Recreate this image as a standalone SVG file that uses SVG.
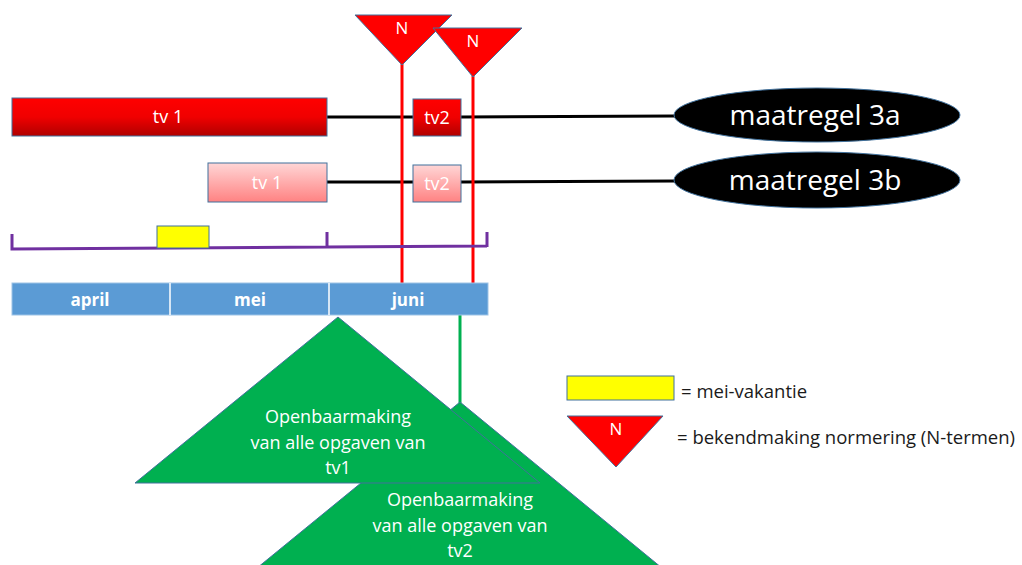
<svg xmlns="http://www.w3.org/2000/svg" width="1022" height="565" viewBox="0 0 1022 565">
<defs>
<linearGradient id="gRed" x1="0" y1="0" x2="0" y2="1">
<stop offset="0" stop-color="#FF0000"/>
<stop offset="0.5" stop-color="#F00000"/>
<stop offset="1" stop-color="#B00000"/>
</linearGradient>
<linearGradient id="gPink" x1="0" y1="0" x2="0" y2="1">
<stop offset="0" stop-color="#FFD6D6"/>
<stop offset="1" stop-color="#FF8282"/>
</linearGradient>
<style>
text{font-family:"Open Sans","Liberation Sans",sans-serif;}
.bar{stroke:#41719C;stroke-width:1;}
.ntri{fill:#FF0000;stroke:#41719C;stroke-width:1;}
.gtri{fill:#00B050;stroke:#41719C;stroke-width:1;}
.blk{stroke:#000000;stroke-width:3;fill:none;}
.redl{stroke:#FF0000;stroke-width:3;fill:none;}
.pur{stroke:#7030A0;stroke-width:3;fill:none;}
.mon{font-weight:bold;font-size:17px;fill:#FFFFFF;text-anchor:middle;}
.lbl{font-size:18px;fill:#FFFFFF;text-anchor:middle;}
.nl{font-size:17px;fill:#FFFFFF;text-anchor:middle;}
.big{font-size:28px;fill:#FFFFFF;text-anchor:middle;}
.tri{font-size:18px;fill:#FFFFFF;text-anchor:middle;}
.leg{font-size:18.5px;fill:#1A1A1A;}
</style>
</defs>
<rect width="1022" height="565" fill="#FFFFFF"/>

<g id="connectors">
<line class="blk" x1="327" y1="117" x2="413" y2="117"/>
<line class="blk" x1="461" y1="117" x2="675" y2="116"/>
<line class="blk" x1="327" y1="182" x2="413" y2="182"/>
<line class="blk" x1="461" y1="182" x2="675" y2="181"/>
<line class="redl" x1="402" y1="64" x2="402" y2="283"/>
<line class="redl" x1="473" y1="76" x2="473" y2="283"/>
<line x1="460" y1="315" x2="460" y2="403" stroke="#00B050" stroke-width="3"/>
</g>

<g id="timeline">
<path class="pur" d="M12,234 V249 L327,247 M327,232 V247 L487,246 M487,232 V247"/>
<rect id="mei-vakantie" x="157" y="226" width="52" height="22" fill="#FFFF00" stroke="#41719C" stroke-width="1"/>
</g>

<g id="months">
<rect x="12" y="283" width="476" height="32" fill="#5B9BD5" stroke="#9DC3E6" stroke-width="1"/>
<line x1="170" y1="283" x2="170" y2="315" stroke="#FFFFFF" stroke-width="1.5"/>
<line x1="329" y1="283" x2="329" y2="315" stroke="#FFFFFF" stroke-width="1.5"/>
<text class="mon" x="90" y="306">april</text>
<text class="mon" x="250" y="306">mei</text>
<text class="mon" x="408" y="306">juni</text>
</g>

<g id="tv1-a">
<rect class="bar" x="12" y="98" width="315" height="38" fill="url(#gRed)"/>
<text class="lbl" x="168" y="123">tv 1</text>
</g>
<g id="tv2-a">
<rect class="bar" x="413" y="99" width="48" height="37" fill="url(#gRed)"/>
<text class="lbl" x="437" y="124">tv2</text>
</g>
<g id="tv1-b">
<rect class="bar" x="208" y="163" width="119" height="39" fill="url(#gPink)"/>
<text class="lbl" x="267" y="189">tv 1</text>
</g>
<g id="tv2-b">
<rect class="bar" x="413" y="165" width="48" height="37" fill="url(#gPink)"/>
<text class="lbl" x="437" y="190">tv2</text>
</g>

<g id="maatregel-3a">
<ellipse cx="817" cy="115" rx="143" ry="27" fill="#000000" stroke="#41719C" stroke-width="1"/>
<text class="big" x="815" y="125">maatregel 3a</text>
</g>
<g id="maatregel-3b">
<ellipse cx="817" cy="180" rx="143" ry="28" fill="#000000" stroke="#41719C" stroke-width="1"/>
<text class="big" x="815" y="190">maatregel 3b</text>
</g>

<g id="N1">
<polygon class="ntri" points="355,15 452,15 402,65"/>
<text class="nl" x="402" y="34">N</text>
</g>
<g id="N2">
<polygon class="ntri" points="433,28 522,28 473,77"/>
<text class="nl" x="473" y="47">N</text>
</g>

<g id="openbaar-tv2">
<polygon class="gtri" points="460,402 662,568 257,568"/>
<text class="tri" x="460" y="506">Openbaarmaking</text>
<text class="tri" x="460" y="532">van alle opgaven van</text>
<text class="tri" x="460" y="557">tv2</text>
</g>
<g id="openbaar-tv1">
<polygon class="gtri" points="338,317 540,483 135,483"/>
<text class="tri" x="338" y="423">Openbaarmaking</text>
<text class="tri" x="338" y="449">van alle opgaven van</text>
<text class="tri" x="338" y="474">tv1</text>
</g>

<g id="legend">
<rect x="567" y="376" width="107" height="24" fill="#FFFF00" stroke="#41719C" stroke-width="1"/>
<text class="leg" x="681" y="398">= mei-vakantie</text>
<polygon class="ntri" points="567,416 663,416 616,467"/>
<text class="nl" x="616" y="435">N</text>
<text class="leg" x="677" y="444">= bekendmaking normering (N-termen)</text>
</g>
</svg>
